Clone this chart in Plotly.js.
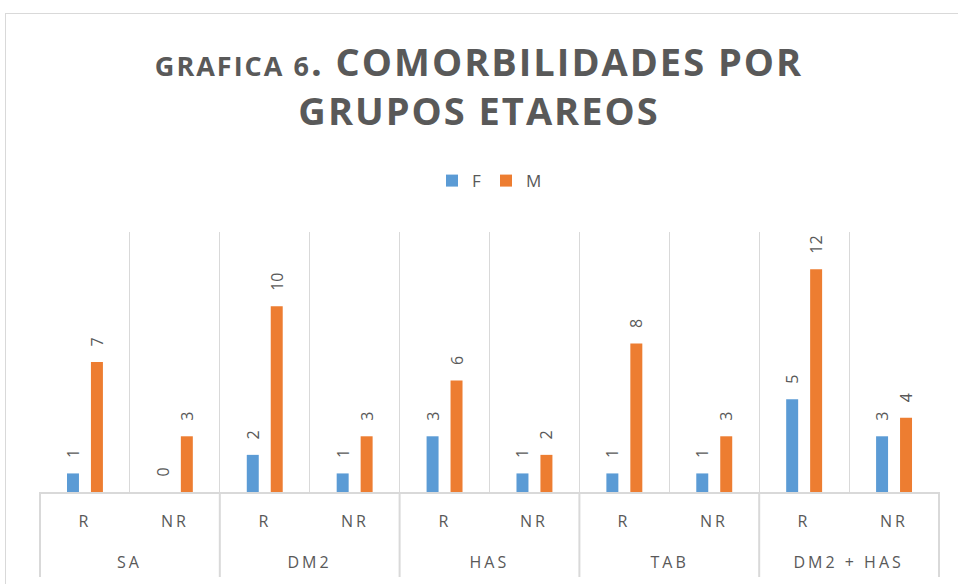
<!DOCTYPE html>
<html><head><meta charset="utf-8">
<script src="https://cdn.plot.ly/plotly-3.0.1.min.js"></script>
<style>
html,body{margin:0;padding:0;background:#fff;}
#frame{position:absolute;left:5px;top:13px;width:980px;height:600px;border:1px solid #d9d9d9;pointer-events:none;}
#chart .gtitle{letter-spacing:2px;}
#chart .annotation-text{letter-spacing:3px;}
</style>
</head><body>
<div id="chart" style="width:958px;height:584px;"></div>
<div id="frame"></div>
<script>
var groups = ["SA","SA","DM2","DM2","HAS","HAS","TAB","TAB","DM2 + HAS","DM2 + HAS"];
var subs = ["R","NR","R","NR","R","NR","R","NR","R","NR"];
var groupNames = ["SA","DM2","HAS","TAB","DM2 + HAS"];
var valuesF = [1,0,2,1,3,1,1,1,5,3];
var valuesM = [7,3,10,3,6,2,8,3,12,4];

function trace(name, vals, color){
  return {type:'bar', name:name, x:[groups, subs], y:vals, marker:{color:color},
    text:vals.map(function(v){return '\u00a0\u00a0\u00a0' + v;}), textposition:'outside', textangle:-90,
    cliponaxis:false, constraintext:'none',
    textfont:{family:'Open Sans, sans-serif', size:16, color:'#595959'}, hoverinfo:'none'};
}
var data = [trace('F', valuesF, '#5B9BD5'), trace('M', valuesM, '#ED7D31')];

var lblFont = {family:'Open Sans, sans-serif', size:16, color:'#595959'};
var annotations = [];
subs.forEach(function(s, i){
  annotations.push({x:i, xref:'x', y:-0.1115, yref:'paper', text:s, showarrow:false,
    xanchor:'center', yanchor:'middle', font:lblFont});
});
groupNames.forEach(function(g, k){
  annotations.push({x:2*k+0.5, xref:'x', y:-0.269, yref:'paper', text:g, showarrow:false,
    xanchor:'center', yanchor:'middle', font:lblFont});
});
var shapes = [];
for (var k = 0; k <= groupNames.length; k++) {
  shapes.push({type:'line', xref:'x', yref:'paper', x0:2*k-0.5, x1:2*k-0.5, y0:0, y1:-0.327,
    line:{color:'#d9d9d9', width:2}});
}

var layout = {
  width:958, height:584,
  margin:{l:39, r:18, t:232, b:92},
  paper_bgcolor:'#fff', plot_bgcolor:'#fff',
  title:{text:'<span style="font-size:27px">GRAFICA 6</span>. COMORBILIDADES POR<br>GRUPOS ETAREOS',
    font:{family:'Open Sans, sans-serif', size:38, color:'#595959', weight:'bold'},
    x:0.5, xanchor:'center', y:0.87, yanchor:'middle'},
  showlegend:true,
  legend:{orientation:'h', x:0.5, xanchor:'center', y:1.196, yanchor:'middle',
    font:{family:'Open Sans, sans-serif', size:17, color:'#595959'}, itemwidth:30, traceorder:'normal'},
  barmode:'group', bargap:0.467, bargroupgap:0.5,
  xaxis:{type:'multicategory', tickson:'boundaries', showgrid:true, gridcolor:'#d9d9d9', gridwidth:1,
    showline:true, linecolor:'#d9d9d9', linewidth:2, ticks:'', showticklabels:false, showdividers:false},
  yaxis:{range:[0,14], showgrid:false, showticklabels:false, zeroline:false, showline:false, ticks:''},
  annotations:annotations, shapes:shapes
};
Plotly.newPlot('chart', data, layout, {displayModeBar:false, staticPlot:true});
</script>
</body></html>
